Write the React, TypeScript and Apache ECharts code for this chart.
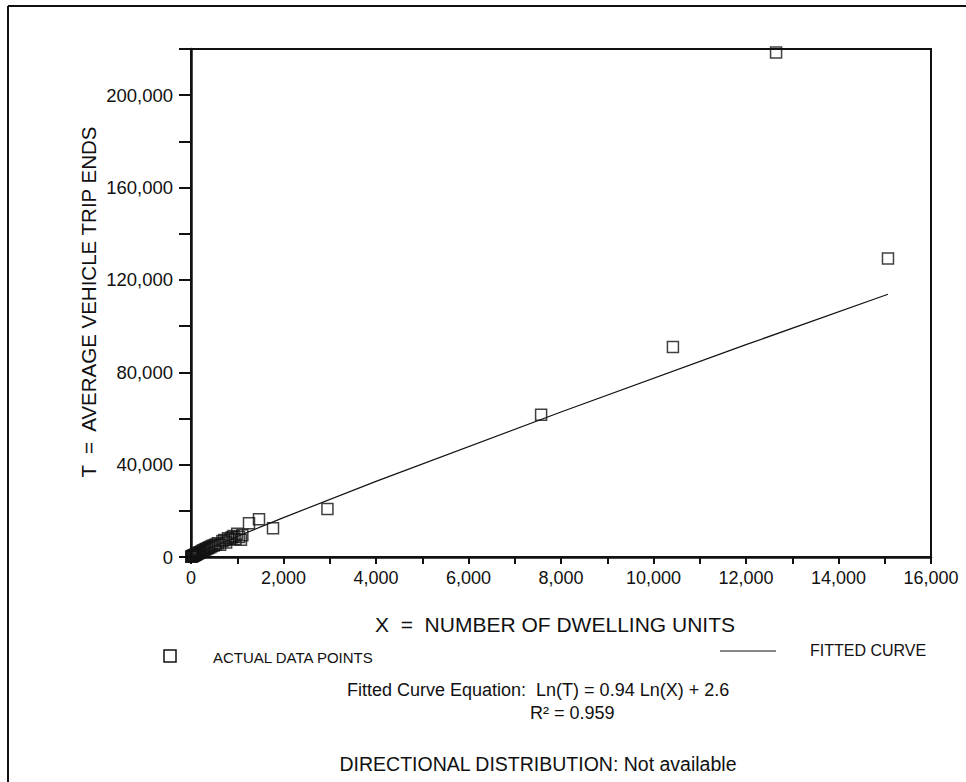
import React, { useEffect, useRef } from "react";
import * as echarts from "echarts";

// Actual data points (X = dwelling units, T = average vehicle trip ends)
const pointsX = [5, 15, 25, 35, 45, 60, 75, 90, 105, 120, 140, 160, 180, 200, 225, 250, 275, 300, 330, 360, 390, 420, 450, 490, 530, 580, 630, 680, 720, 760, 800, 840, 880, 920, 960, 1000, 1040, 1080, 1110, 1254, 1470, 1773, 2950, 7570, 10420, 12650, 15070];
const pointsY = [80, 200, 330, 400, 560, 650, 800, 1000, 1100, 1350, 1450, 1700, 1950, 2100, 2400, 2700, 2900, 3300, 3500, 3800, 4100, 4300, 4800, 5000, 5400, 6000, 5300, 6900, 7400, 6300, 8100, 7600, 8600, 9100, 7800, 10100, 8700, 7500, 9400, 14600, 16400, 12500, 20800, 61600, 90900, 218500, 129300];

// Fitted curve points
const curveX = [20, 100, 500, 1000, 2000, 4000, 8000, 12000, 15070];
const curveT = [225, 1021, 4635, 8895, 17065, 32740, 62800, 91950, 113800];

const xAxisMax = 16000;
const xTickStep = 1000;
const yAxisMax = 220000;
const yTickStep = 20000;

const yTitle = "T  =  AVERAGE VEHICLE TRIP ENDS";
const xTitle = "X  =  NUMBER OF DWELLING UNITS";
const legendPoints = "ACTUAL DATA POINTS";
const legendCurve = "FITTED CURVE";
const equationText = "Fitted Curve Equation:  Ln(T) = 0.94 Ln(X) + 2.6";
const r2Text = "R\u00B2 = 0.959";
const directionalText = "DIRECTIONAL DISTRIBUTION: Not available";

const FONT = "'Liberation Sans', Arial, sans-serif";

const fmt = (v: number) => v.toLocaleString("en-US");

export default function App() {
  const ref = useRef<HTMLDivElement>(null);
  useEffect(() => {
    document.body.style.margin = "0";
    const chart = echarts.init(ref.current!, null, { renderer: "svg" });
    const scatterData = pointsX.map((x, i) => [x, pointsY[i]]);
    const curveData = curveX.map((x, i) => [x, curveT[i]]);
    chart.setOption({
      animation: false,
      backgroundColor: "#fff",
      grid: {
        left: 191,
        top: 49,
        right: 35,
        bottom: 225,
        show: true,
        borderColor: "#111",
        borderWidth: 2,
        backgroundColor: "transparent",
      },
      xAxis: {
        type: "value",
        min: 0,
        max: xAxisMax,
        interval: xTickStep,
        splitLine: { show: false },
        axisLine: { show: true, lineStyle: { color: "#111", width: 2.5 } },
        axisTick: { show: true, inside: false, length: 7, lineStyle: { color: "#111", width: 2 } },
        axisLabel: {
          margin: 12,
          color: "#111",
          fontSize: 18,
          fontFamily: FONT,
          formatter: (v: number) => (v % 2000 === 0 ? fmt(v) : ""),
        },
      },
      yAxis: {
        type: "value",
        min: 0,
        max: yAxisMax,
        interval: yTickStep,
        splitLine: { show: false },
        axisLine: { show: true, lineStyle: { color: "#111", width: 2.5 } },
        axisTick: { show: true, inside: false, length: 12, lineStyle: { color: "#111", width: 2 } },
        axisLabel: {
          margin: 18,
          color: "#111",
          fontSize: 18.5,
          fontFamily: FONT,
          formatter: (v: number) => (v % 40000 === 0 && v <= 200000 ? fmt(v) : ""),
        },
      },
      series: [
        {
          type: "scatter",
          data: scatterData,
          symbol: "rect",
          symbolSize: 11,
          itemStyle: { color: "rgba(0,0,0,0)", borderColor: "#111", borderWidth: 1.5 },
          z: 3,
        },
        {
          type: "line",
          data: curveData,
          showSymbol: false,
          smooth: false,
          lineStyle: { color: "#111", width: 1.2 },
          z: 4,
        },
      ],
      graphic: [
        { type: "line", shape: { x1: 8, y1: 6, x2: 966, y2: 6 }, style: { stroke: "#111", lineWidth: 2 } },
        { type: "line", shape: { x1: 8, y1: 6, x2: 8, y2: 782 }, style: { stroke: "#111", lineWidth: 2 } },
        {
          type: "text",
          x: 88,
          y: 302,
          rotation: Math.PI / 2,
          style: { text: yTitle, fontSize: 20.5, fontFamily: FONT, fill: "#111", textAlign: "center", textVerticalAlign: "middle" },
        },
        {
          type: "text",
          x: 555,
          y: 624,
          style: { text: xTitle, fontSize: 21, fontFamily: FONT, fill: "#111", textAlign: "center", textVerticalAlign: "middle" },
        },
        {
          type: "rect",
          shape: { x: 164, y: 650, width: 12, height: 12 },
          style: { fill: "none", stroke: "#111", lineWidth: 1.5 },
        },
        {
          type: "text",
          x: 213,
          y: 657,
          style: { text: legendPoints, fontSize: 15, fontFamily: FONT, fill: "#111", textAlign: "left", textVerticalAlign: "middle" },
        },
        { type: "line", shape: { x1: 720, y1: 651, x2: 776, y2: 651 }, style: { stroke: "#111", lineWidth: 1 } },
        {
          type: "text",
          x: 810,
          y: 650,
          style: { text: legendCurve, fontSize: 16, fontFamily: FONT, fill: "#111", textAlign: "left", textVerticalAlign: "middle" },
        },
        {
          type: "text",
          x: 347,
          y: 690,
          style: { text: equationText, fontSize: 18, fontFamily: FONT, fill: "#111", textAlign: "left", textVerticalAlign: "middle" },
        },
        {
          type: "text",
          x: 530,
          y: 713,
          style: { text: r2Text, fontSize: 18, fontFamily: FONT, fill: "#111", textAlign: "left", textVerticalAlign: "middle" },
        },
        {
          type: "text",
          x: 538,
          y: 764,
          style: { text: directionalText, fontSize: 19.5, fontFamily: FONT, fill: "#111", textAlign: "center", textVerticalAlign: "middle" },
        },
      ],
    });
    return () => chart.dispose();
  }, []);
  return <div ref={ref} style={{ width: 966, height: 782 }} />;
}
